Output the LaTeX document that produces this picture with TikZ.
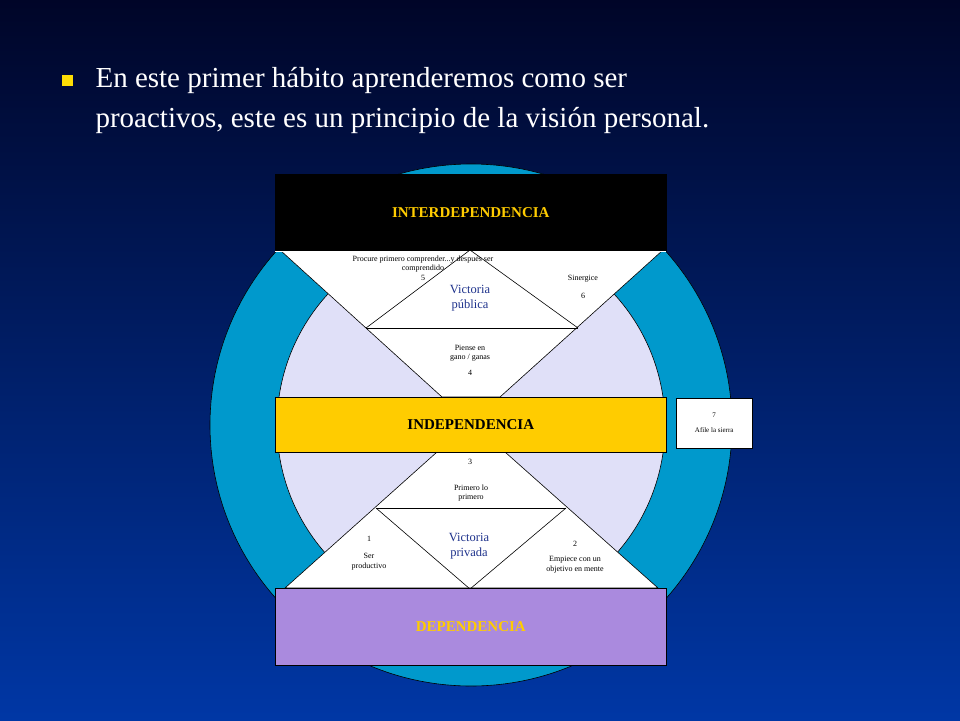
\documentclass[tikz,border=0pt]{standalone}
\usepackage{fontspec}
\setmainfont{Liberation Serif}
\begin{document}
\begin{tikzpicture}[x=1pt,y=-1pt,
 box/.style={draw=black,line width=0.6pt,minimum width=391pt,anchor=north west,inner sep=0pt},
 small/.style={font=\fontsize{8}{9.5}\selectfont,align=center,text=black},
 vic/.style={font=\fontsize{12.5}{15}\selectfont,align=center,text={rgb,255:red,30;green,50;blue,140}},
 ln/.style={draw=black,line width=0.6pt}]
\definecolor{ring}{RGB}{0,153,204}
\definecolor{lav}{RGB}{224,224,248}
\shade[top color={rgb,255:red,0;green,5;blue,40},bottom color={rgb,255:red,0;green,55;blue,165}] (0,0) rectangle (960,720);
\useasboundingbox (0,0) rectangle (960,720);
\fill[yellow!80!orange] (62,75) rectangle (73,86);
\node[anchor=west,text=white,font=\fontsize{29}{40}\selectfont,align=left] (title) at (92,101) {En este primer hábito aprenderemos como ser\\proactivos, este es un principio de la visión personal.};
\filldraw[fill=ring,draw=black,line width=0.6pt] (471,425) circle (261);
\filldraw[fill=lav,draw=black,line width=0.6pt] (471,425) circle (194);
% upper white shape
\filldraw[fill=white,draw=black,line width=0.6pt] (275,250) -- (280,250) -- (442,397) -- (500,397) -- (663,250) -- (666,250) -- cycle;
\fill[white] (275,250) rectangle (666,252);
\draw[ln] (366,328) -- (470,250) -- (578,328);
\draw[ln] (366,328) -- (578,328);
% lower white shape
\filldraw[fill=white,draw=black,line width=0.6pt] (437,452) -- (505,452) -- (658,588) -- (285,588) -- cycle;
\draw[ln] (376,508) -- (566,508);
\draw[ln] (376,508) -- (470,589) -- (566,508);
% boxes
\node[box,fill=black,minimum height=76pt,text={rgb,255:red,255;green,204;blue,0},font=\bfseries\fontsize{15}{18}\selectfont] (inter) at (275,174) {INTERDEPENDENCIA};
\node[box,fill={rgb,255:red,255;green,204;blue,0},minimum height=55pt,text=black,font=\bfseries\fontsize{15}{18}\selectfont] (indep) at (275,397) {INDEPENDENCIA};
\node[box,fill={rgb,255:red,170;green,138;blue,222},minimum height=77pt,text={rgb,255:red,255;green,204;blue,0},font=\bfseries\fontsize{15}{18}\selectfont] (dep) at (275,588) {DEPENDENCIA};
\node[draw=black,fill=white,minimum width=76pt,minimum height=50pt,anchor=north west,small,font=\fontsize{7}{9}\selectfont] (afile) at (676,398) {7\\[6pt]Afile la sierra};
% texts
\node[small] (t5) at (423,268) {Procure primero comprender...y después ser\\comprendido\\5};
\node[small] (t6) at (583,287) {Sinergice\\[8pt]6};
\node[vic] (vp) at (470,298) {Victoria\\pública};
\node[small] (t4) at (470,360) {Piense en\\gano / ganas\\[6pt]4};
\node[small] (t3) at (470,462) {3};
\node[small] (tpr) at (471,493) {Primero lo\\primero};
\node[small] (t1) at (369,553) {1\\[8pt]Ser\\productivo};
\node[vic] (vpr) at (469,546) {Victoria\\privada};
\node[small] (t2) at (575,557) {2\\[6pt]Empiece con un\\objetivo en mente};
\end{tikzpicture}
\end{document}
